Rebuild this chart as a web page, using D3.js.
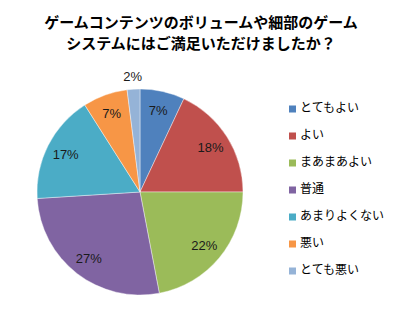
<!DOCTYPE html>
<html>
<head>
<meta charset="utf-8">
<script src="https://cdn.jsdelivr.net/npm/d3@7"></script>
<style>
  html, body { margin: 0; padding: 0; background: #fff; }
  svg { display: block; }
</style>
</head>
<body>
<svg id="chart" width="404" height="330"></svg>
<script>
// Survey answers and their shares (%)
const categories = ["とてもよい", "よい", "まあまあよい", "普通", "あまりよくない", "悪い", "とても悪い"];
const values = [7, 18, 22, 27, 17, 7, 2];
const colors = ["#4F81BD", "#C0504D", "#9BBB59", "#8064A2", "#4BACC6", "#F79646", "#95B3D7"];
const titleLines = ["ゲームコンテンツのボリュームや細部のゲーム", "システムにはご満足いただけましたか？"];

const svg = d3.select("#chart");
const jp = "'Noto Sans CJK JP', 'Noto Sans', sans-serif";

// Title
svg.append("g").selectAll("text")
  .data(titleLines)
  .join("text")
  .attr("x", 201)
  .attr("y", (d, i) => 28 + i * 21)
  .attr("text-anchor", "middle")
  .attr("font-family", jp)
  .attr("font-size", 15)
  .attr("font-weight", "bold")
  .attr("fill", "#000")
  .text(d => d);

// Pie
const cx = 140, cy = 192, r = 103;
const data = categories.map((c, i) => ({ name: c, value: values[i], color: colors[i] }));
const pie = d3.pie().value(d => d.value).sort(null);
const arcs = pie(data);
const arc = d3.arc().innerRadius(0).outerRadius(r);
const labelArc = d3.arc().innerRadius(r * 0.81).outerRadius(r * 0.81);
const outerLabelArc = d3.arc().innerRadius(r * 1.13).outerRadius(r * 1.13);

const g = svg.append("g").attr("transform", `translate(${cx},${cy})`);
g.selectAll("path")
  .data(arcs)
  .join("path")
  .attr("d", arc)
  .attr("fill", d => d.data.color)
  .attr("stroke", "#fff")
  .attr("stroke-opacity", 0.5)
  .attr("stroke-width", 0.8);

// Percentage labels: small slices get their label outside the pie
g.selectAll("text")
  .data(arcs)
  .join("text")
  .attr("transform", d => `translate(${(d.data.value < 5 ? outerLabelArc : labelArc).centroid(d)})`)
  .attr("text-anchor", "middle")
  .attr("dy", "0.36em")
  .attr("font-family", "'Liberation Sans', Arial, sans-serif")
  .attr("font-size", 13)
  .attr("fill", "#1a1a1a")
  .text(d => d.data.value + "%");

// Legend
const legend = svg.append("g").attr("transform", "translate(289,0)");
const rows = legend.selectAll("g")
  .data(data)
  .join("g")
  .attr("transform", (d, i) => `translate(0,${109 + i * 27})`);
rows.append("rect")
  .attr("x", 0).attr("y", -3.5)
  .attr("width", 7).attr("height", 7)
  .attr("fill", d => d.color);
rows.append("text")
  .attr("x", 11)
  .attr("y", 3)
  .attr("font-family", jp)
  .attr("font-size", 12)
  .attr("fill", "#000")
  .text(d => d.name);
</script>
</body>
</html>
